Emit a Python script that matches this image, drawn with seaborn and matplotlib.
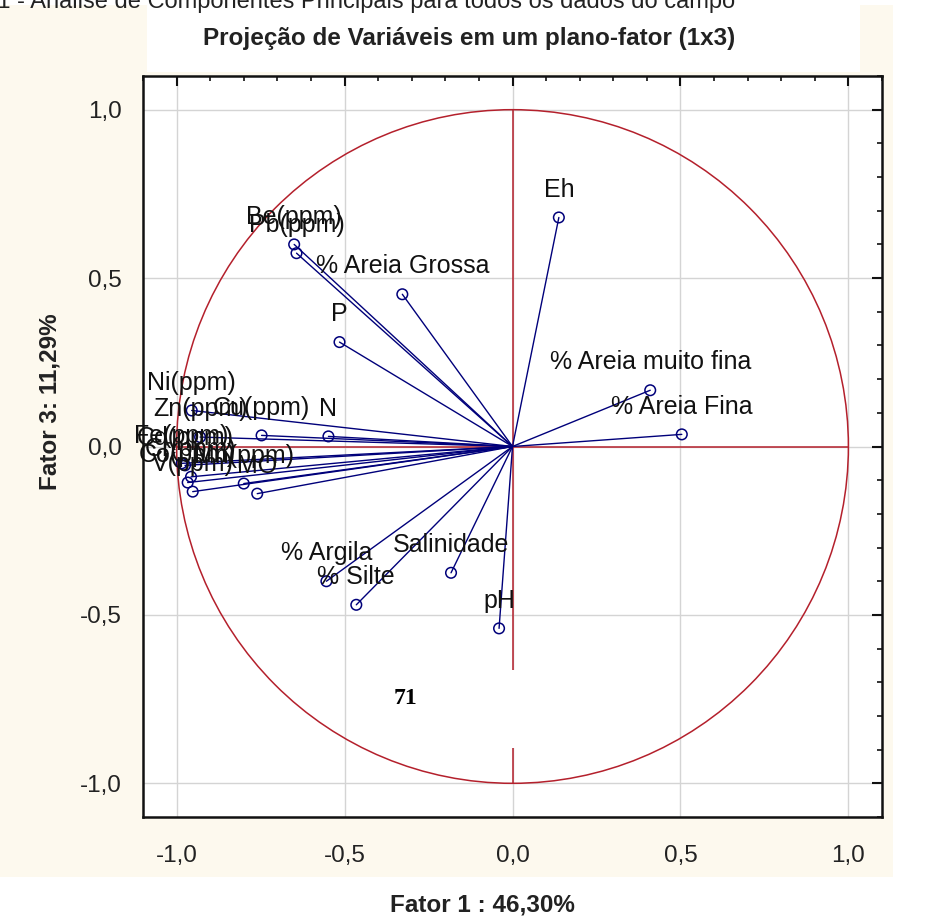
import numpy as np
import pandas as pd
import matplotlib
matplotlib.use("Agg")
import matplotlib.pyplot as plt
from matplotlib.patches import Rectangle, Circle
from matplotlib.ticker import MultipleLocator, FuncFormatter
import seaborn as sns

# variable loadings (Fator 1, Fator 3)
variables = ["Eh", "% Areia muito fina", "% Areia Fina", "% Areia Grossa", "P",
             "Be(ppm)", "Pb(ppm)", "Ni(ppm)", "Zn(ppm)", "Cu(ppm)", "N",
             "Fe(ppm)", "Cd(ppm)", "Co(ppm)", "Cr(ppm)", "V(ppm)", "Mn(ppm)", "MO",
             "% Argila", "% Silte", "Salinidade", "pH"]
fator1 = [0.138, 0.410, 0.504, -0.328, -0.515,
          -0.650, -0.643, -0.955, -0.930, -0.747, -0.548,
          -0.985, -0.975, -0.967, -0.957, -0.952, -0.800, -0.760,
          -0.554, -0.465, -0.183, -0.040]
fator3 = [0.680, 0.167, 0.036, 0.452, 0.310,
          0.600, 0.574, 0.107, 0.028, 0.033, 0.030,
          -0.050, -0.056, -0.107, -0.090, -0.134, -0.110, -0.140,
          -0.400, -0.470, -0.375, -0.540]

tick_vals = [-1.0, -0.5, 0.0, 0.5, 1.0]

df = pd.DataFrame({"var": variables, "f1": fator1, "f3": fator3})
# segments from origin to each variable
seg = pd.concat([
    pd.DataFrame({"var": variables, "f1": 0.0, "f3": 0.0, "order": 0}),
    df.assign(order=1),
]).sort_values(["var", "order"])

sns.set_theme(style="white")
plt.rcParams["font.family"] = ["Liberation Sans", "DejaVu Sans"]

navy = "#00007a"
red = "#b4202c"
cream = "#fdf9ee"

fig = plt.figure(figsize=(9.38, 9.23), dpi=100)
fig.patch.set_facecolor("white")
fig.patches.append(Rectangle((0, 1 - 877 / 923), 893 / 938, 872 / 923,
                             transform=fig.transFigure, facecolor=cream,
                             edgecolor="none", zorder=-2))
fig.patches.append(Rectangle((147 / 938, 1 - 72 / 923), 713 / 938, 67 / 923,
                             transform=fig.transFigure, facecolor="white",
                             edgecolor="none", zorder=-1))

ax = fig.add_axes([143 / 938, 1 - 817 / 923, 739 / 938, 741 / 923])
ax.set_facecolor("white")

# unit circle and axes through origin
ax.add_patch(Circle((0, 0), 1, fill=False, edgecolor=red, lw=1.1, zorder=2))
ax.plot([-1, 1], [0, 0], color=red, lw=1.1, zorder=2)
ax.plot([0, 0], [-1, 1], color=red, lw=1.1, zorder=2)

sns.lineplot(data=seg, x="f1", y="f3", units="var", estimator=None, sort=False,
             color=navy, lw=1.0, ax=ax, zorder=3)
sns.scatterplot(data=df, x="f1", y="f3", marker="o", s=58, color=navy,
                facecolor="none", edgecolor=navy, linewidth=1.1, ax=ax, zorder=4)

for name, x, y in zip(variables, fator1, fator3):
    ax.annotate(name, (x, y), xytext=(0, 20), textcoords="offset points",
                ha="center", va="center", fontsize=18, color="#111111", zorder=5)

ax.set_xlim(-1.1, 1.1)
ax.set_ylim(-1.1, 1.1)
ax.set_xticks(tick_vals)
ax.set_yticks(tick_vals)
fmt = FuncFormatter(lambda v, p: f"{v:.1f}".replace(".", ","))
ax.xaxis.set_major_formatter(fmt)
ax.yaxis.set_major_formatter(fmt)
ax.xaxis.set_minor_locator(MultipleLocator(0.1))
ax.yaxis.set_minor_locator(MultipleLocator(0.1))
ax.tick_params(which="major", direction="in", length=7, width=1.5, top=True, right=True,
               labelsize=17.5, labelcolor="#222222", pad=15, color="#111111")
ax.tick_params(which="minor", direction="in", length=3.5, width=1.2, top=True, right=True,
               color="#111111")
ax.tick_params(axis="x", which="major", pad=20)
ax.grid(True, which="major", color="#d4d4d4", lw=1.0, zorder=0)
ax.set_axisbelow(True)
for s in ax.spines.values():
    s.set_color("#111111")
    s.set_linewidth(1.8)
ax.set_xlabel("")
ax.set_ylabel("")

fig.text(482 / 938, 1 - 905 / 923, "Fator 1 : 46,30%", ha="center", va="center",
         fontsize=17.5, fontweight="bold", color="#222222")
fig.text(50 / 938, 1 - 402 / 923, "Fator 3: 11,29%", ha="center", va="center",
         rotation=90, fontsize=17.5, fontweight="bold", color="#222222")
fig.text(469 / 938, 1 - 38 / 923, "Projeção de Variáveis em um plano-fator (1x3)",
         ha="center", va="center", fontsize=17.5, fontweight="bold", color="#222222")
fig.text(735 / 938, 1 - 2 / 923,
         "a 4.1 - Análise de Componentes Principais para todos os dados do campo",
         ha="right", va="center", fontsize=17, color="#222222")

# page number overlay from the source document, on a white patch
fig.patches.append(Rectangle((385 / 938, 1 - 748 / 923), 215 / 938, 78 / 923,
                             transform=fig.transFigure, facecolor="white",
                             edgecolor="none", zorder=1))
fig.text(405 / 938, 1 - 698 / 923, "71", ha="center", va="center", fontsize=17,
         fontweight="bold", family=["Liberation Serif", "DejaVu Serif"], color="black",
         zorder=3)

fig.savefig("out.png", dpi=100, facecolor=fig.get_facecolor())
